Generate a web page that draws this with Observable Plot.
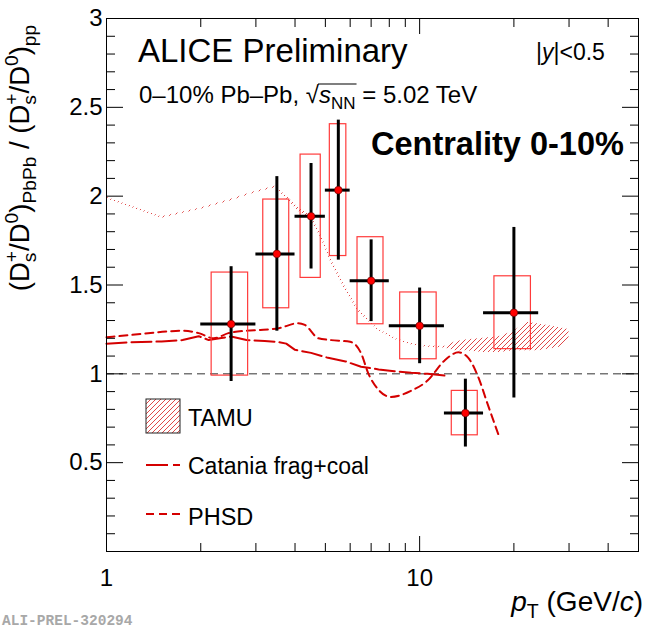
<!DOCTYPE html>
<html><head><meta charset="utf-8">
<script src="https://cdn.jsdelivr.net/npm/d3@7"></script>
<script src="https://cdn.jsdelivr.net/npm/@observablehq/plot@0.6"></script>
<style>body{margin:0;background:#fff} svg{display:block}</style>
</head><body><div id="chart"></div>
<script>
const F = "'Liberation Sans', Arial, Helvetica, sans-serif";

// ---- data: ALICE Ds/D0 double ratio, 0-10% Pb-Pb ----
const ptCenter = [2.5, 3.5, 4.5, 5.5, 7, 10, 14, 20];
const ptLow    = [2, 3, 4, 5, 6, 8, 12, 16];
const ptHigh   = [3, 4, 5, 6, 8, 12, 16, 24];
const ratio    = [1.28, 1.675, 1.887, 2.034, 1.524, 1.27, 0.779, 1.344];
const statErr  = [0.323, 0.435, 0.297, 0.394, 0.23, 0.213, 0.191, 0.48];
const systErr  = [0.29, 0.306, 0.347, 0.371, 0.245, 0.188, 0.125, 0.205];

// TAMU band
const tamuPt   = [1, 1.2, 1.5, 2, 2.5, 3, 3.46, 3.8, 4.1, 4.5, 4.85, 5.2, 5.75, 6.35, 7.35, 8.5, 9.5, 10.6, 12, 13, 14, 16, 18, 20, 22, 24, 26, 28, 30];
const tamuLow  = [1.986, 1.936, 1.876, 1.926, 1.974, 2.020, 2.048, 1.977, 1.915, 1.870, 1.760, 1.630, 1.480, 1.352, 1.246, 1.186, 1.161, 1.149, 1.146, 1.13, 1.13, 1.12, 1.12, 1.13, 1.13, 1.13, 1.14, 1.15, 1.2];
const tamuHigh = [1.994, 1.944, 1.884, 1.934, 1.982, 2.028, 2.056, 1.993, 1.935, 1.890, 1.780, 1.650, 1.500, 1.368, 1.254, 1.194, 1.169, 1.157, 1.154, 1.18, 1.19, 1.2, 1.21, 1.24, 1.29, 1.28, 1.27, 1.26, 1.25];

// Catania frag+coal
const cataniaPt = [1, 1.2, 1.5, 1.75, 1.97, 2.12, 2.3, 2.5, 2.8, 3.2, 3.5, 3.75, 4.0, 4.5, 5.1, 5.8, 6.5, 7.4, 8.3, 9.4, 10.6, 12];
const cataniaY  = [1.17, 1.178, 1.182, 1.19, 1.212, 1.19, 1.2, 1.21, 1.19, 1.185, 1.18, 1.17, 1.135, 1.118, 1.09, 1.07, 1.04, 1.025, 1.015, 1.006, 1.0, 0.99];

// PHSD
const phsdPt = [1, 1.2, 1.55, 1.75, 1.97, 2.2, 2.45, 2.8, 3.1, 3.55, 4.1, 4.3, 4.75, 5.2, 6.0, 6.5, 6.85, 7.35, 8.1, 9.4, 10.6, 12, 13.3, 14.3, 15.4, 16.5, 18];
const phsdY  = [1.206, 1.219, 1.238, 1.243, 1.229, 1.2, 1.229, 1.243, 1.247, 1.257, 1.285, 1.275, 1.2, 1.19, 1.18, 1.116, 1.004, 0.915, 0.87, 0.905, 0.962, 1.074, 1.121, 1.09, 0.98, 0.828, 0.64];

// ticks
const yLabelTicks = [0.5, 1, 1.5, 2, 2.5, 3];
const yMajorTicks = [0, 0.5, 1, 1.5, 2, 2.5, 3];
const yMinorTicks = d3.range(0, 31).map(i => i / 10).filter(v => Math.abs(v * 2 - Math.round(v * 2)) > 1e-6);
const xLabelTicks = [1, 10];
const xMinorTicks = [2, 3, 4, 5, 6, 7, 8, 9, 20, 30, 40];

// ---- tables ----
const points = ptCenter.map((p, i) => ({pt: p, lo: ptLow[i], hi: ptHigh[i], r: ratio[i], st: statErr[i], sy: systErr[i]}));
const tamu = tamuPt.map((p, i) => ({pt: p, lo: tamuLow[i], hi: tamuHigh[i]}));
const catania = cataniaPt.map((p, i) => ({pt: p, y: cataniaY[i]}));
const phsd = phsdPt.map((p, i) => ({pt: p, y: phsdY[i]}));

const fmt = d => String(d);
const noText = () => "";

const chart = Plot.plot({
  width: 646, height: 630,
  marginLeft: 106, marginRight: 8, marginTop: 18, marginBottom: 79,
  style: {fontFamily: F, background: "white", color: "black", overflow: "visible"},
  x: {type: "log", domain: [1, 50], axis: null},
  y: {domain: [0, 3], axis: null},
  marks: [
    Plot.areaY(tamu, {x: "pt", y1: "lo", y2: "hi", fill: "url(#hatch)"}),
    Plot.ruleY([1], {stroke: "#333", strokeWidth: 1, strokeDasharray: "8,5"}),
    Plot.line(catania, {x: "pt", y: "y", stroke: "#d40000", strokeWidth: 2, strokeDasharray: "20,5"}),
    Plot.line(phsd, {x: "pt", y: "y", stroke: "#d40000", strokeWidth: 2, strokeDasharray: "8,5", curve: "monotone-x"}),
    Plot.rect(points, {x1: d => d.pt - (d.hi - d.lo) / 3, x2: d => d.pt + (d.hi - d.lo) / 3, y1: d => d.r - d.sy, y2: d => d.r + d.sy, fill: "none", stroke: "#ff3b3b", strokeWidth: 1.2}),
    Plot.ruleX(points, {x: "pt", y1: d => d.r - d.st, y2: d => d.r + d.st, stroke: "black", strokeWidth: 3}),
    Plot.ruleY(points, {y: "r", x1: "lo", x2: "hi", stroke: "black", strokeWidth: 3}),
    Plot.dot(points, {x: "pt", y: "r", r: 3.8, fill: "#ff0000", stroke: "#500", strokeWidth: 0.6}),
    Plot.frame({stroke: "black", strokeWidth: 1}),
    // y axes
    Plot.axisY({anchor: "left", ticks: yMajorTicks, tickSize: -17, tickFormat: noText, label: null}),
    Plot.axisY({anchor: "left", ticks: yMinorTicks, tickSize: -9, tickFormat: noText, label: null}),
    Plot.axisY({anchor: "right", ticks: yMajorTicks, tickSize: -17, tickFormat: noText, label: null}),
    Plot.axisY({anchor: "right", ticks: yMinorTicks, tickSize: -9, tickFormat: noText, label: null}),
    Plot.axisY({anchor: "left", ticks: yLabelTicks, tickSize: 0, tickPadding: 4, tickFormat: fmt, fontSize: 24, label: null}),
    // x axes
    Plot.axisX({anchor: "bottom", ticks: xLabelTicks, tickSize: -15, tickFormat: noText, label: null}),
    Plot.axisX({anchor: "bottom", ticks: xMinorTicks, tickSize: -8, tickFormat: noText, label: null}),
    Plot.axisX({anchor: "top", ticks: xLabelTicks, tickSize: -15, tickFormat: noText, label: null}),
    Plot.axisX({anchor: "top", ticks: xMinorTicks, tickSize: -8, tickFormat: noText, label: null}),
    Plot.axisX({anchor: "bottom", ticks: xLabelTicks, tickSize: 0, tickPadding: 17, tickFormat: fmt, fontSize: 24, label: null})
  ]
});
document.getElementById("chart").appendChild(chart);

const svg = d3.select(chart);
const defs = svg.insert("defs", ":first-child");
const pat = defs.append("pattern").attr("id", "hatch").attr("patternUnits", "userSpaceOnUse")
  .attr("width", 5).attr("height", 5);
pat.append("path").attr("d", "M-1,1 L1,-1 M0,5 L5,0 M4,6 L6,4")
  .attr("stroke", "#e04848").attr("stroke-width", 1).attr("fill", "none");

const g = svg.append("g").attr("font-family", F).attr("fill", "black").attr("text-anchor", "start");

g.append("text").attr("x", 138).attr("y", 62).attr("font-size", 33).text("ALICE Preliminary");

const yt = g.append("text").attr("x", 536).attr("y", 60).attr("font-size", 23);
yt.append("tspan").text("|");
yt.append("tspan").attr("font-style", "italic").text("y");
yt.append("tspan").text("|<0.5");

const en = g.append("text").attr("x", 139).attr("y", 103).attr("font-size", 24);
en.append("tspan").text("0–10% Pb–Pb, √");
en.append("tspan").attr("font-style", "italic").text("s");
en.append("tspan").attr("font-size", 17).attr("dy", 6).text("NN");
en.append("tspan").attr("dy", -6).text(" = 5.02 TeV");
const ov0 = en.node().getStartPositionOfChar(14).x;
const ov1 = en.node().getEndPositionOfChar(16).x;
g.append("line").attr("x1", ov0 - 1).attr("x2", ov1 + 1).attr("y1", 84).attr("y2", 84)
  .attr("stroke", "black").attr("stroke-width", 1.2);

g.append("text").attr("x", 371).attr("y", 155).attr("font-size", 32.5).attr("font-weight", "bold").text("Centrality 0-10%");

// y-axis title
const ya = g.append("text").attr("transform", "translate(29,158) rotate(-90)").attr("text-anchor", "middle").attr("font-size", 27.5);
function ratioPart(t, sub) {
  t.append("tspan").attr("dy", 0).text("(D");
  t.append("tspan").attr("font-size", 19.2).attr("dy", -11).text("+");
  t.append("tspan").attr("font-size", 19.2).attr("dx", -11.2).attr("dy", 18).text("s");
  t.append("tspan").attr("dx", 1.6).attr("dy", -7).text("/D");
  t.append("tspan").attr("font-size", 19.2).attr("dy", -11).text("0");
  t.append("tspan").attr("dy", 11).text(")");
  t.append("tspan").attr("font-size", 19.2).attr("dy", 7).text(sub);
}
ratioPart(ya, "PbPb");
ya.append("tspan").attr("dy", -7).text(" / ");
ratioPart(ya, "pp");

// x-axis title
const xa = g.append("text").attr("x", 643).attr("y", 611).attr("text-anchor", "end").attr("font-size", 28);
xa.append("tspan").attr("font-style", "italic").text("p");
xa.append("tspan").attr("font-size", 19.5).attr("dy", 7).text("T");
xa.append("tspan").attr("dy", -7).text(" (GeV/");
xa.append("tspan").attr("font-style", "italic").text("c");
xa.append("tspan").text(")");

// legend
g.append("rect").attr("x", 146).attr("y", 399).attr("width", 34).attr("height", 34)
  .attr("fill", "url(#hatch)").attr("stroke", "#222").attr("stroke-width", 1);
g.append("text").attr("x", 188).attr("y", 426).attr("font-size", 23.5).text("TAMU");
g.append("line").attr("x1", 146).attr("x2", 180).attr("y1", 465).attr("y2", 465)
  .attr("stroke", "#d40000").attr("stroke-width", 2).attr("stroke-dasharray", "22,5");
g.append("text").attr("x", 188).attr("y", 474).attr("font-size", 23).text("Catania frag+coal");
g.append("line").attr("x1", 146).attr("x2", 180).attr("y1", 514).attr("y2", 514)
  .attr("stroke", "#d40000").attr("stroke-width", 2).attr("stroke-dasharray", "8,5");
g.append("text").attr("x", 188).attr("y", 525).attr("font-size", 23.5).text("PHSD");

g.append("text").attr("x", 2).attr("y", 625).attr("font-size", 14.5).attr("font-family", "'Liberation Mono', 'DejaVu Sans Mono', monospace")
  .attr("font-weight", "bold").attr("fill", "#a8a8a8").text("ALI-PREL-320294");
</script>
</body></html>
